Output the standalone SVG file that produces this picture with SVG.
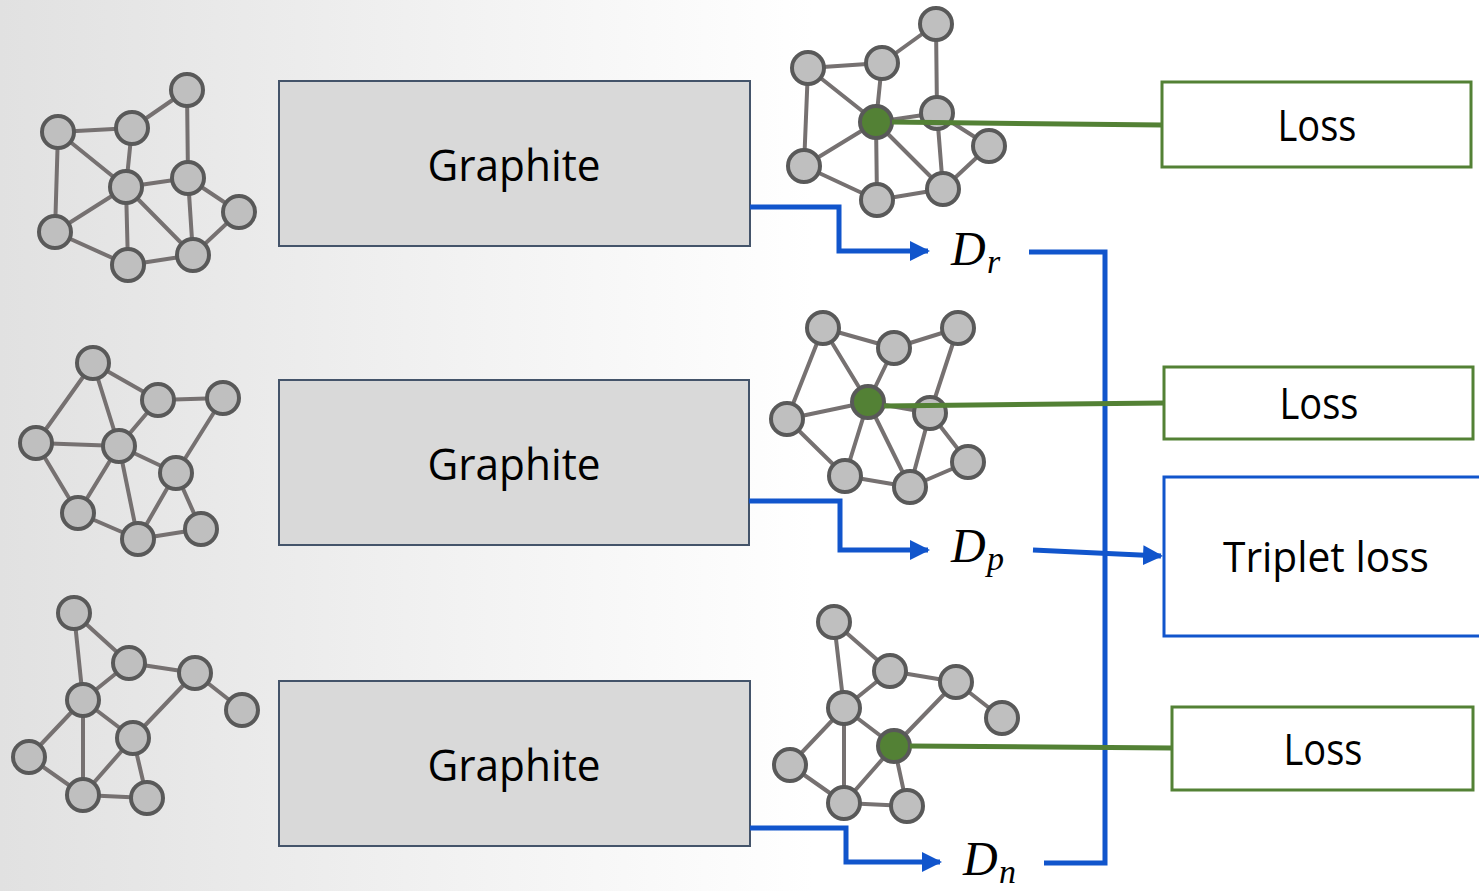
<svg xmlns="http://www.w3.org/2000/svg" width="1479" height="891" viewBox="0 0 1479 891">
<defs>
<linearGradient id="bg" x1="0" y1="0.5" x2="1" y2="0.5">
<stop offset="0" stop-color="#e1e1e1"/>
<stop offset="0.55" stop-color="#ffffff"/>
<stop offset="1" stop-color="#ffffff"/>
</linearGradient>
<marker id="arr" viewBox="0 0 10 10" refX="9" refY="5" markerWidth="4" markerHeight="4" markerUnits="strokeWidth" orient="auto">
<path d="M0,0 L10,5 L0,10 z" fill="#1155cc"/>
</marker>
<style>
.e{stroke:#767171;stroke-width:4;fill:none}
.n{fill:#bfbfbf;stroke:#595959;stroke-width:4}
.g{fill:#538135;stroke:#595959;stroke-width:4}
.box{fill:#d9d9d9;stroke:#44546a;stroke-width:2}
.lbl{font-family:"Open Sans","Liberation Sans",sans-serif;fill:#000;text-anchor:middle}
.loss{fill:#fff;stroke:#538135;stroke-width:3}
.trip{fill:#fff;stroke:#1155cc;stroke-width:3}
.blue{stroke:#1155cc;stroke-width:5;fill:none}
.green{stroke:#538135;stroke-width:5;fill:none}
.m{font-family:"Liberation Serif","DejaVu Serif",serif;font-style:italic;fill:#000}
</style>
</defs>
<rect x="0" y="0" width="1479" height="891" fill="url(#bg)"/>

<g id="graph-anchor-in">
<path class="e" d="M187,90L132,128M187,90L188,178M58,132L132,128M58,132L126,187M58,132L55,232M132,128L126,187M126,187L188,178M126,187L55,232M126,187L128,265M126,187L193,255M188,178L193,255M188,178L239,212M239,212L193,255M55,232L128,265M128,265L193,255"/>
<circle class="n" cx="187" cy="90" r="16"/><circle class="n" cx="58" cy="132" r="16"/><circle class="n" cx="132" cy="128" r="16"/><circle class="n" cx="126" cy="187" r="16"/><circle class="n" cx="188" cy="178" r="16"/><circle class="n" cx="239" cy="212" r="16"/><circle class="n" cx="55" cy="232" r="16"/><circle class="n" cx="128" cy="265" r="16"/><circle class="n" cx="193" cy="255" r="16"/>
</g>

<g id="graph-positive-in">
<path class="e" d="M93,363L36,443M93,363L158,400M93,363L119,446M158,400L223,398M158,400L119,446M223,398L176,473M36,443L119,446M36,443L78,513M119,446L78,513M119,446L176,473M119,446L138,539M176,473L138,539M176,473L201,529M138,539L201,529M78,513L138,539"/>
<circle class="n" cx="93" cy="363" r="16"/><circle class="n" cx="158" cy="400" r="16"/><circle class="n" cx="223" cy="398" r="16"/><circle class="n" cx="36" cy="443" r="16"/><circle class="n" cx="119" cy="446" r="16"/><circle class="n" cx="176" cy="473" r="16"/><circle class="n" cx="78" cy="513" r="16"/><circle class="n" cx="138" cy="539" r="16"/><circle class="n" cx="201" cy="529" r="16"/>
</g>

<g id="graph-negative-in">
<path class="e" d="M74,613L129,663M74,613L83,700M129,663L195,673M129,663L83,700M195,673L242,710M195,673L133,738M83,700L133,738M83,700L29,757M83,700L83,795M133,738L83,795M133,738L147,798M29,757L83,795M83,795L147,798"/>
<circle class="n" cx="74" cy="613" r="16"/><circle class="n" cx="129" cy="663" r="16"/><circle class="n" cx="195" cy="673" r="16"/><circle class="n" cx="242" cy="710" r="16"/><circle class="n" cx="83" cy="700" r="16"/><circle class="n" cx="133" cy="738" r="16"/><circle class="n" cx="29" cy="757" r="16"/><circle class="n" cx="83" cy="795" r="16"/><circle class="n" cx="147" cy="798" r="16"/>
</g>

<g id="graphite-1"><rect class="box" x="279" y="81" width="471" height="165"/><text class="lbl" x="514" y="181" font-size="44" textLength="173" lengthAdjust="spacingAndGlyphs">Graphite</text></g>
<g id="graphite-2"><rect class="box" x="279" y="380" width="470" height="165"/><text class="lbl" x="514" y="480" font-size="44" textLength="173" lengthAdjust="spacingAndGlyphs">Graphite</text></g>
<g id="graphite-3"><rect class="box" x="279" y="681" width="471" height="165"/><text class="lbl" x="514" y="781" font-size="44" textLength="173" lengthAdjust="spacingAndGlyphs">Graphite</text></g>

<g id="graph-anchor-out">
<path class="e" d="M936,24L882,63M936,24L937,113M808,68L882,63M808,68L876,122M808,68L804,166M882,63L876,122M876,122L937,113M876,122L804,166M876,122L877,200M876,122L943,189M937,113L943,189M937,113L989,146M989,146L943,189M804,166L877,200M877,200L943,189"/>
<circle class="n" cx="936" cy="24" r="16"/><circle class="n" cx="808" cy="68" r="16"/><circle class="n" cx="882" cy="63" r="16"/><circle class="n" cx="937" cy="113" r="16"/><circle class="n" cx="989" cy="146" r="16"/><circle class="n" cx="804" cy="166" r="16"/><circle class="n" cx="877" cy="200" r="16"/><circle class="n" cx="943" cy="189" r="16"/>
<circle class="g" cx="876" cy="122" r="16"/>
</g>

<g id="graph-positive-out">
<path class="e" d="M823,328L787,419M823,328L894,348M823,328L868,402M894,348L958,328M894,348L868,402M958,328L930,413M787,419L868,402M787,419L845,476M868,402L845,476M868,402L930,413M868,402L910,487M930,413L910,487M930,413L968,462M910,487L968,462M845,476L910,487"/>
<circle class="n" cx="823" cy="328" r="16"/><circle class="n" cx="894" cy="348" r="16"/><circle class="n" cx="958" cy="328" r="16"/><circle class="n" cx="787" cy="419" r="16"/><circle class="n" cx="930" cy="413" r="16"/><circle class="n" cx="845" cy="476" r="16"/><circle class="n" cx="910" cy="487" r="16"/><circle class="n" cx="968" cy="462" r="16"/>
<circle class="g" cx="868" cy="402" r="16"/>
</g>

<g id="graph-negative-out">
<path class="e" d="M834,622L890,671M834,622L844,708M890,671L956,682M890,671L844,708M956,682L1002,718M956,682L894,746M844,708L894,746M844,708L790,765M844,708L844,803M894,746L844,803M894,746L907,806M790,765L844,803M844,803L907,806"/>
<circle class="n" cx="834" cy="622" r="16"/><circle class="n" cx="890" cy="671" r="16"/><circle class="n" cx="956" cy="682" r="16"/><circle class="n" cx="1002" cy="718" r="16"/><circle class="n" cx="844" cy="708" r="16"/><circle class="n" cx="790" cy="765" r="16"/><circle class="n" cx="844" cy="803" r="16"/><circle class="n" cx="907" cy="806" r="16"/>
<circle class="g" cx="894" cy="746" r="16"/>
</g>

<g id="loss-1"><rect class="loss" x="1162" y="82" width="309" height="85"/><text class="lbl" x="1317" y="141" font-size="43" textLength="79" lengthAdjust="spacingAndGlyphs">Loss</text></g>
<g id="loss-2"><rect class="loss" x="1164" y="367" width="309" height="72"/><text class="lbl" x="1319" y="419" font-size="43" textLength="79" lengthAdjust="spacingAndGlyphs">Loss</text></g>
<g id="loss-3"><rect class="loss" x="1172" y="707" width="301" height="83"/><text class="lbl" x="1323" y="765" font-size="43" textLength="79" lengthAdjust="spacingAndGlyphs">Loss</text></g>
<g id="triplet-loss"><rect class="trip" x="1164" y="477" width="330" height="159"/><text class="lbl" x="1326" y="572" font-size="42" textLength="206" lengthAdjust="spacingAndGlyphs">Triplet loss</text></g>

<g id="label-dr"><text class="m" x="951" y="265" font-size="48">D</text><text class="m" x="987" y="273" font-size="34">r</text></g>
<g id="label-dp"><text class="m" x="951" y="562" font-size="48">D</text><text class="m" x="987" y="570" font-size="34">p</text></g>
<g id="label-dn"><text class="m" x="963" y="875" font-size="48">D</text><text class="m" x="999" y="883" font-size="34">n</text></g>

<g id="connectors">
<path class="blue" d="M750,207H839V251H928" marker-end="url(#arr)"/>
<path class="blue" d="M749,501H840V550H928" marker-end="url(#arr)"/>
<path class="blue" d="M750,828H846V862H940" marker-end="url(#arr)"/>
<path class="blue" d="M1029,252H1105V863H1044"/>
<path class="blue" d="M1033,550L1161,556" marker-end="url(#arr)"/>
<path class="green" d="M892,122L1162,125"/>
<path class="green" d="M884,406L1164,403"/>
<path class="green" d="M910,746L1172,748"/>
</g>
</svg>
